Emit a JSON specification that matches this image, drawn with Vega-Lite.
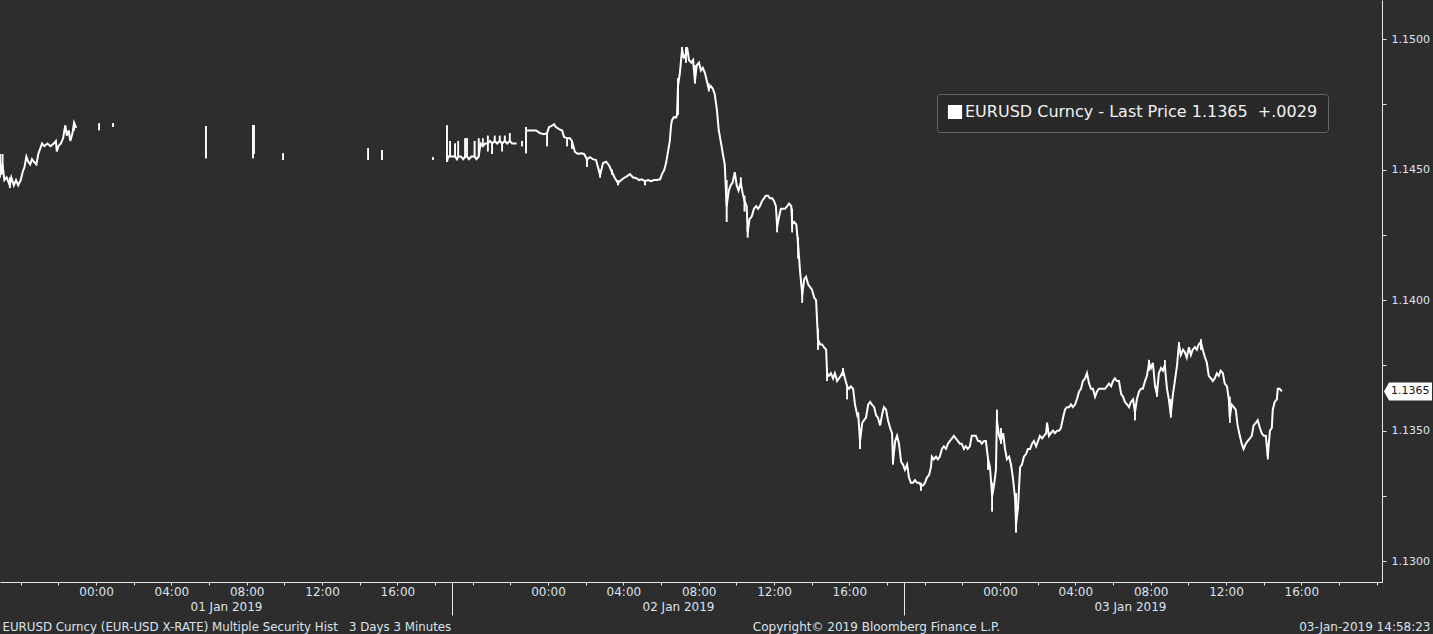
{
  "$schema": "https://vega.github.io/schema/vega-lite/v6.json",
  "width": 1382,
  "height": 582,
  "autosize": {"type": "none"},
  "padding": {"left": 0, "top": 0, "right": 51, "bottom": 52},
  "background": "#2d2d2d",
  "config": {"view": {"stroke": null}, "font": "DejaVu Sans"},
  "datasets": {
    "fx": [
      {"t":"2018-12-31T18:54:00Z","v":1.1454,"lo":1.1447,"hi":1.1456,"seg":"a"},
      {"t":"2018-12-31T18:58:00Z","v":1.1448,"seg":"a"},
      {"t":"2018-12-31T19:02:00Z","v":1.1452,"lo":1.1451,"hi":1.1456,"seg":"a"},
      {"t":"2018-12-31T19:08:00Z","v":1.1446,"seg":"a"},
      {"t":"2018-12-31T19:15:00Z","v":1.1447,"seg":"a"},
      {"t":"2018-12-31T19:25:00Z","v":1.1444,"lo":1.1443,"hi":1.1447,"seg":"a"},
      {"t":"2018-12-31T19:30:00Z","v":1.1447,"seg":"a"},
      {"t":"2018-12-31T19:38:00Z","v":1.1444,"seg":"a"},
      {"t":"2018-12-31T19:45:00Z","v":1.1446,"seg":"a"},
      {"t":"2018-12-31T19:52:00Z","v":1.1444,"seg":"a"},
      {"t":"2018-12-31T20:00:00Z","v":1.1446,"seg":"a"},
      {"t":"2018-12-31T20:06:00Z","v":1.1449,"seg":"a"},
      {"t":"2018-12-31T20:12:00Z","v":1.1451,"seg":"a"},
      {"t":"2018-12-31T20:18:00Z","v":1.1455,"seg":"a"},
      {"t":"2018-12-31T20:24:00Z","v":1.1453,"seg":"a"},
      {"t":"2018-12-31T20:30:00Z","v":1.1452,"seg":"a"},
      {"t":"2018-12-31T20:36:00Z","v":1.1454,"seg":"a"},
      {"t":"2018-12-31T20:42:00Z","v":1.1453,"seg":"a"},
      {"t":"2018-12-31T20:50:00Z","v":1.1452,"seg":"a"},
      {"t":"2018-12-31T20:56:00Z","v":1.1456,"seg":"a"},
      {"t":"2018-12-31T21:02:00Z","v":1.1458,"seg":"a"},
      {"t":"2018-12-31T21:08:00Z","v":1.1460,"seg":"a"},
      {"t":"2018-12-31T21:15:00Z","v":1.1459,"seg":"a"},
      {"t":"2018-12-31T21:25:00Z","v":1.1460,"seg":"a"},
      {"t":"2018-12-31T21:35:00Z","v":1.1459,"seg":"a"},
      {"t":"2018-12-31T21:45:00Z","v":1.1460,"seg":"a"},
      {"t":"2018-12-31T21:52:00Z","v":1.1461,"seg":"a"},
      {"t":"2018-12-31T21:55:00Z","v":1.1457,"seg":"a"},
      {"t":"2018-12-31T22:00:00Z","v":1.1459,"seg":"a"},
      {"t":"2018-12-31T22:08:00Z","v":1.1460,"seg":"a"},
      {"t":"2018-12-31T22:15:00Z","v":1.1462,"seg":"a"},
      {"t":"2018-12-31T22:22:00Z","v":1.1467,"seg":"a"},
      {"t":"2018-12-31T22:27:00Z","v":1.1463,"seg":"a"},
      {"t":"2018-12-31T22:33:00Z","v":1.1465,"seg":"a"},
      {"t":"2018-12-31T22:38:00Z","v":1.1461,"seg":"a"},
      {"t":"2018-12-31T22:45:00Z","v":1.1464,"seg":"a"},
      {"t":"2018-12-31T22:50:00Z","v":1.1468,"lo":1.1465,"hi":1.1468,"seg":"a"},
      {"t":"2018-12-31T22:57:00Z","v":1.1466,"seg":"a"},
      {"t":"2019-01-01T00:10:00Z","lo":1.14651,"hi":1.14678},
      {"t":"2019-01-01T00:54:00Z","lo":1.14663,"hi":1.14678},
      {"t":"2019-01-01T05:50:00Z","lo":1.14544,"hi":1.14667},
      {"t":"2019-01-01T08:20:00Z","lo":1.14544,"hi":1.14671},
      {"t":"2019-01-01T08:23:00Z","lo":1.14560,"hi":1.14671},
      {"t":"2019-01-01T09:56:00Z","lo":1.14537,"hi":1.14563},
      {"t":"2019-01-01T14:27:00Z","lo":1.14537,"hi":1.14583},
      {"t":"2019-01-01T15:11:00Z","lo":1.14537,"hi":1.14575},
      {"t":"2019-01-01T17:53:00Z","lo":1.14537,"hi":1.14548},
      {"t":"2019-01-01T22:37:00Z","lo":1.1459,"hi":1.1461},
      {"t":"2019-01-01T18:38:00Z","v":1.1453,"lo":1.1453,"hi":1.1467,"seg":"b"},
      {"t":"2019-01-01T18:42:00Z","v":1.1455,"seg":"b"},
      {"t":"2019-01-01T18:48:00Z","v":1.1455,"lo":1.1455,"hi":1.1461,"seg":"b"},
      {"t":"2019-01-01T18:55:00Z","v":1.1455,"seg":"b"},
      {"t":"2019-01-01T19:04:00Z","v":1.1455,"lo":1.1455,"hi":1.1460,"seg":"b"},
      {"t":"2019-01-01T19:10:00Z","v":1.1454,"seg":"b"},
      {"t":"2019-01-01T19:14:00Z","v":1.1455,"lo":1.1455,"hi":1.1461,"seg":"b"},
      {"t":"2019-01-01T19:22:00Z","v":1.1455,"seg":"b"},
      {"t":"2019-01-01T19:30:00Z","v":1.1454,"seg":"b"},
      {"t":"2019-01-01T19:36:00Z","v":1.1455,"lo":1.1455,"hi":1.1462,"seg":"b"},
      {"t":"2019-01-01T19:42:00Z","v":1.1455,"lo":1.1455,"hi":1.1462,"seg":"b"},
      {"t":"2019-01-01T19:48:00Z","v":1.1454,"seg":"b"},
      {"t":"2019-01-01T19:56:00Z","v":1.1455,"seg":"b"},
      {"t":"2019-01-01T20:06:00Z","v":1.1455,"lo":1.1455,"hi":1.1461,"seg":"b"},
      {"t":"2019-01-01T20:12:00Z","v":1.1454,"seg":"b"},
      {"t":"2019-01-01T20:19:00Z","v":1.1455,"lo":1.1455,"hi":1.1462,"seg":"b"},
      {"t":"2019-01-01T20:25:00Z","v":1.1460,"seg":"b"},
      {"t":"2019-01-01T20:32:00Z","v":1.1459,"lo":1.1459,"hi":1.1462,"seg":"b"},
      {"t":"2019-01-01T20:40:00Z","v":1.1460,"seg":"b"},
      {"t":"2019-01-01T20:48:00Z","v":1.1460,"lo":1.1457,"hi":1.1463,"seg":"b"},
      {"t":"2019-01-01T20:55:00Z","v":1.1461,"seg":"b"},
      {"t":"2019-01-01T21:02:00Z","v":1.1460,"lo":1.1456,"hi":1.1460,"seg":"b"},
      {"t":"2019-01-01T21:10:00Z","v":1.1461,"lo":1.1461,"hi":1.1463,"seg":"b"},
      {"t":"2019-01-01T21:18:00Z","v":1.1460,"seg":"b"},
      {"t":"2019-01-01T21:26:00Z","v":1.1461,"lo":1.1461,"hi":1.1463,"seg":"b"},
      {"t":"2019-01-01T21:34:00Z","v":1.1460,"lo":1.1457,"hi":1.1460,"seg":"b"},
      {"t":"2019-01-01T21:42:00Z","v":1.1461,"lo":1.1461,"hi":1.1463,"seg":"b"},
      {"t":"2019-01-01T21:50:00Z","v":1.1460,"seg":"b"},
      {"t":"2019-01-01T21:58:00Z","v":1.1461,"lo":1.1461,"hi":1.1464,"seg":"b"},
      {"t":"2019-01-01T22:06:00Z","v":1.1460,"seg":"b"},
      {"t":"2019-01-01T22:12:00Z","v":1.1460,"seg":"b"},
      {"t":"2019-01-01T22:20:00Z","v":1.1460,"seg":"b"},
      {"t":"2019-01-01T22:50:00Z","v":1.1465,"lo":1.14563,"hi":1.14663,"seg":"c"},
      {"t":"2019-01-01T22:56:00Z","v":1.1465,"seg":"c"},
      {"t":"2019-01-01T23:09:00Z","v":1.1465,"seg":"c"},
      {"t":"2019-01-01T23:22:00Z","v":1.1465,"seg":"c"},
      {"t":"2019-01-01T23:34:00Z","v":1.1464,"seg":"c"},
      {"t":"2019-01-01T23:47:00Z","v":1.14636,"seg":"c"},
      {"t":"2019-01-01T23:57:00Z","v":1.1464,"lo":1.1459,"hi":1.1464,"seg":"c"},
      {"t":"2019-01-02T00:03:00Z","v":1.14663,"seg":"c"},
      {"t":"2019-01-02T00:10:00Z","v":1.14667,"seg":"c"},
      {"t":"2019-01-02T00:16:00Z","v":1.14671,"seg":"c"},
      {"t":"2019-01-02T00:19:00Z","v":1.14674,"seg":"c"},
      {"t":"2019-01-02T00:25:00Z","v":1.14663,"seg":"c"},
      {"t":"2019-01-02T00:35:00Z","v":1.14655,"seg":"c"},
      {"t":"2019-01-02T00:45:00Z","v":1.1465,"seg":"c"},
      {"t":"2019-01-02T00:51:00Z","v":1.14625,"seg":"c"},
      {"t":"2019-01-02T01:01:00Z","v":1.1462,"lo":1.1459,"hi":1.1462,"seg":"c"},
      {"t":"2019-01-02T01:10:00Z","v":1.1462,"seg":"c"},
      {"t":"2019-01-02T01:16:00Z","v":1.1461,"lo":1.1458,"hi":1.1461,"seg":"c"},
      {"t":"2019-01-02T01:26:00Z","v":1.14567,"seg":"c"},
      {"t":"2019-01-02T01:36:00Z","v":1.1456,"seg":"c"},
      {"t":"2019-01-02T01:45:00Z","v":1.14563,"seg":"c"},
      {"t":"2019-01-02T01:55:00Z","v":1.1456,"seg":"c"},
      {"t":"2019-01-02T02:04:00Z","v":1.1454,"lo":1.1451,"hi":1.1454,"seg":"c"},
      {"t":"2019-01-02T02:14:00Z","v":1.14548,"seg":"c"},
      {"t":"2019-01-02T02:23:00Z","v":1.1454,"seg":"c"},
      {"t":"2019-01-02T02:33:00Z","v":1.14537,"seg":"c"},
      {"t":"2019-01-02T02:46:00Z","v":1.14479,"lo":1.1447,"hi":1.1450,"seg":"c"},
      {"t":"2019-01-02T02:55:00Z","v":1.14525,"seg":"c"},
      {"t":"2019-01-02T03:05:00Z","v":1.1453,"seg":"c"},
      {"t":"2019-01-02T03:14:00Z","v":1.14517,"seg":"c"},
      {"t":"2019-01-02T03:24:00Z","v":1.1449,"lo":1.1448,"hi":1.1450,"seg":"c"},
      {"t":"2019-01-02T03:33:00Z","v":1.14468,"seg":"c"},
      {"t":"2019-01-02T03:43:00Z","v":1.14448,"lo":1.1444,"hi":1.1446,"seg":"c"},
      {"t":"2019-01-02T03:53:00Z","v":1.1446,"seg":"c"},
      {"t":"2019-01-02T04:02:00Z","v":1.14468,"seg":"c"},
      {"t":"2019-01-02T04:12:00Z","v":1.14475,"seg":"c"},
      {"t":"2019-01-02T04:21:00Z","v":1.14483,"seg":"c"},
      {"t":"2019-01-02T04:31:00Z","v":1.1447,"seg":"c"},
      {"t":"2019-01-02T04:40:00Z","v":1.14468,"seg":"c"},
      {"t":"2019-01-02T04:50:00Z","v":1.1446,"seg":"c"},
      {"t":"2019-01-02T04:59:00Z","v":1.14463,"seg":"c"},
      {"t":"2019-01-02T05:09:00Z","v":1.14456,"lo":1.1444,"hi":1.1446,"seg":"c"},
      {"t":"2019-01-02T05:19:00Z","v":1.1446,"seg":"c"},
      {"t":"2019-01-02T05:28:00Z","v":1.14456,"seg":"c"},
      {"t":"2019-01-02T05:38:00Z","v":1.1446,"seg":"c"},
      {"t":"2019-01-02T05:47:00Z","v":1.1446,"seg":"c"},
      {"t":"2019-01-02T05:57:00Z","v":1.14463,"seg":"c"},
      {"t":"2019-01-02T06:03:00Z","v":1.14483,"seg":"c"},
      {"t":"2019-01-02T06:10:00Z","v":1.14498,"seg":"c"},
      {"t":"2019-01-02T06:16:00Z","v":1.14525,"seg":"c"},
      {"t":"2019-01-02T06:22:00Z","v":1.14567,"seg":"c"},
      {"t":"2019-01-02T06:28:00Z","v":1.1461,"seg":"c"},
      {"t":"2019-01-02T06:32:00Z","v":1.1467,"seg":"c"},
      {"t":"2019-01-02T06:35:00Z","v":1.1469,"seg":"c"},
      {"t":"2019-01-02T06:41:00Z","v":1.14701,"seg":"c"},
      {"t":"2019-01-02T06:48:00Z","v":1.147,"seg":"c"},
      {"t":"2019-01-02T06:51:00Z","v":1.1471,"seg":"c"},
      {"t":"2019-01-02T06:54:00Z","v":1.1482,"lo":1.1471,"hi":1.1485,"seg":"c"},
      {"t":"2019-01-02T07:00:00Z","v":1.1487,"seg":"c"},
      {"t":"2019-01-02T07:07:00Z","v":1.1496,"lo":1.1493,"hi":1.1497,"seg":"c"},
      {"t":"2019-01-02T07:13:00Z","v":1.1493,"seg":"c"},
      {"t":"2019-01-02T07:19:00Z","v":1.1494,"lo":1.1491,"hi":1.1497,"seg":"c"},
      {"t":"2019-01-02T07:23:00Z","v":1.14969,"seg":"c"},
      {"t":"2019-01-02T07:29:00Z","v":1.1492,"seg":"c"},
      {"t":"2019-01-02T07:36:00Z","v":1.1491,"seg":"c"},
      {"t":"2019-01-02T07:42:00Z","v":1.1492,"seg":"c"},
      {"t":"2019-01-02T07:48:00Z","v":1.1484,"lo":1.1483,"hi":1.1490,"seg":"c"},
      {"t":"2019-01-02T07:54:00Z","v":1.1490,"seg":"c"},
      {"t":"2019-01-02T08:01:00Z","v":1.1491,"seg":"c"},
      {"t":"2019-01-02T08:07:00Z","v":1.1488,"seg":"c"},
      {"t":"2019-01-02T08:13:00Z","v":1.1489,"seg":"c"},
      {"t":"2019-01-02T08:20:00Z","v":1.1487,"seg":"c"},
      {"t":"2019-01-02T08:26:00Z","v":1.1484,"seg":"c"},
      {"t":"2019-01-02T08:32:00Z","v":1.1481,"lo":1.1480,"hi":1.1483,"seg":"c"},
      {"t":"2019-01-02T08:39:00Z","v":1.1482,"seg":"c"},
      {"t":"2019-01-02T08:45:00Z","v":1.1481,"seg":"c"},
      {"t":"2019-01-02T08:51:00Z","v":1.1479,"seg":"c"},
      {"t":"2019-01-02T08:58:00Z","v":1.1473,"seg":"c"},
      {"t":"2019-01-02T09:04:00Z","v":1.1465,"seg":"c"},
      {"t":"2019-01-02T09:10:00Z","v":1.1461,"seg":"c"},
      {"t":"2019-01-02T09:17:00Z","v":1.1456,"seg":"c"},
      {"t":"2019-01-02T09:23:00Z","v":1.1452,"seg":"c"},
      {"t":"2019-01-02T09:29:00Z","v":1.1436,"lo":1.1430,"hi":1.1446,"seg":"c"},
      {"t":"2019-01-02T09:36:00Z","v":1.1442,"seg":"c"},
      {"t":"2019-01-02T09:42:00Z","v":1.1444,"seg":"c"},
      {"t":"2019-01-02T09:48:00Z","v":1.1445,"seg":"c"},
      {"t":"2019-01-02T09:55:00Z","v":1.1449,"seg":"c"},
      {"t":"2019-01-02T10:01:00Z","v":1.1444,"seg":"c"},
      {"t":"2019-01-02T10:07:00Z","v":1.1442,"seg":"c"},
      {"t":"2019-01-02T10:14:00Z","v":1.1445,"lo":1.1443,"hi":1.1447,"seg":"c"},
      {"t":"2019-01-02T10:20:00Z","v":1.1441,"seg":"c"},
      {"t":"2019-01-02T10:26:00Z","v":1.1438,"lo":1.1434,"hi":1.1440,"seg":"c"},
      {"t":"2019-01-02T10:33:00Z","v":1.1436,"seg":"c"},
      {"t":"2019-01-02T10:36:00Z","v":1.1426,"lo":1.1424,"hi":1.1428,"seg":"c"},
      {"t":"2019-01-02T10:42:00Z","v":1.1431,"seg":"c"},
      {"t":"2019-01-02T10:49:00Z","v":1.1432,"seg":"c"},
      {"t":"2019-01-02T10:56:00Z","v":1.1435,"seg":"c"},
      {"t":"2019-01-02T11:03:00Z","v":1.1436,"seg":"c"},
      {"t":"2019-01-02T11:09:00Z","v":1.1435,"seg":"c"},
      {"t":"2019-01-02T11:15:00Z","v":1.1436,"seg":"c"},
      {"t":"2019-01-02T11:22:00Z","v":1.1438,"seg":"c"},
      {"t":"2019-01-02T11:28:00Z","v":1.1439,"seg":"c"},
      {"t":"2019-01-02T11:34:00Z","v":1.1440,"seg":"c"},
      {"t":"2019-01-02T11:41:00Z","v":1.1440,"seg":"c"},
      {"t":"2019-01-02T11:47:00Z","v":1.1439,"seg":"c"},
      {"t":"2019-01-02T11:54:00Z","v":1.1439,"seg":"c"},
      {"t":"2019-01-02T12:00:00Z","v":1.1438,"seg":"c"},
      {"t":"2019-01-02T12:06:00Z","v":1.1436,"seg":"c"},
      {"t":"2019-01-02T12:10:00Z","v":1.1428,"lo":1.1426,"hi":1.1431,"seg":"c"},
      {"t":"2019-01-02T12:16:00Z","v":1.1432,"seg":"c"},
      {"t":"2019-01-02T12:22:00Z","v":1.1435,"seg":"c"},
      {"t":"2019-01-02T12:29:00Z","v":1.1435,"seg":"c"},
      {"t":"2019-01-02T12:35:00Z","v":1.1435,"seg":"c"},
      {"t":"2019-01-02T12:42:00Z","v":1.1436,"seg":"c"},
      {"t":"2019-01-02T12:48:00Z","v":1.1437,"seg":"c"},
      {"t":"2019-01-02T12:55:00Z","v":1.1436,"seg":"c"},
      {"t":"2019-01-02T12:58:00Z","v":1.1429,"lo":1.1426,"hi":1.1435,"seg":"c"},
      {"t":"2019-01-02T13:04:00Z","v":1.1430,"seg":"c"},
      {"t":"2019-01-02T13:11:00Z","v":1.1429,"seg":"c"},
      {"t":"2019-01-02T13:17:00Z","v":1.1421,"lo":1.1416,"hi":1.1424,"seg":"c"},
      {"t":"2019-01-02T13:23:00Z","v":1.1411,"seg":"c"},
      {"t":"2019-01-02T13:30:00Z","v":1.1402,"lo":1.1399,"hi":1.1405,"seg":"c"},
      {"t":"2019-01-02T13:36:00Z","v":1.1408,"seg":"c"},
      {"t":"2019-01-02T13:42:00Z","v":1.1409,"seg":"c"},
      {"t":"2019-01-02T13:49:00Z","v":1.1406,"seg":"c"},
      {"t":"2019-01-02T13:55:00Z","v":1.1405,"seg":"c"},
      {"t":"2019-01-02T14:01:00Z","v":1.1404,"seg":"c"},
      {"t":"2019-01-02T14:08:00Z","v":1.1401,"seg":"c"},
      {"t":"2019-01-02T14:14:00Z","v":1.1400,"seg":"c"},
      {"t":"2019-01-02T14:20:00Z","v":1.1385,"lo":1.1381,"hi":1.1389,"seg":"c"},
      {"t":"2019-01-02T14:27:00Z","v":1.1383,"seg":"c"},
      {"t":"2019-01-02T14:33:00Z","v":1.1383,"seg":"c"},
      {"t":"2019-01-02T14:39:00Z","v":1.1382,"seg":"c"},
      {"t":"2019-01-02T14:46:00Z","v":1.1381,"seg":"c"},
      {"t":"2019-01-02T14:49:00Z","v":1.1372,"lo":1.1369,"hi":1.1374,"seg":"c"},
      {"t":"2019-01-02T14:55:00Z","v":1.1371,"seg":"c"},
      {"t":"2019-01-02T15:01:00Z","v":1.1372,"seg":"c"},
      {"t":"2019-01-02T15:08:00Z","v":1.1370,"seg":"c"},
      {"t":"2019-01-02T15:14:00Z","v":1.1372,"seg":"c"},
      {"t":"2019-01-02T15:21:00Z","v":1.1369,"seg":"c"},
      {"t":"2019-01-02T15:27:00Z","v":1.1370,"seg":"c"},
      {"t":"2019-01-02T15:33:00Z","v":1.1371,"seg":"c"},
      {"t":"2019-01-02T15:40:00Z","v":1.1373,"lo":1.1371,"hi":1.1374,"seg":"c"},
      {"t":"2019-01-02T15:46:00Z","v":1.1370,"seg":"c"},
      {"t":"2019-01-02T15:53:00Z","v":1.1367,"lo":1.1362,"hi":1.1367,"seg":"c"},
      {"t":"2019-01-02T15:59:00Z","v":1.1366,"seg":"c"},
      {"t":"2019-01-02T16:05:00Z","v":1.1367,"seg":"c"},
      {"t":"2019-01-02T16:12:00Z","v":1.1366,"seg":"c"},
      {"t":"2019-01-02T16:18:00Z","v":1.1360,"seg":"c"},
      {"t":"2019-01-02T16:25:00Z","v":1.1356,"seg":"c"},
      {"t":"2019-01-02T16:28:00Z","v":1.1357,"seg":"c"},
      {"t":"2019-01-02T16:34:00Z","v":1.1346,"lo":1.1343,"hi":1.1351,"seg":"c"},
      {"t":"2019-01-02T16:41:00Z","v":1.1353,"seg":"c"},
      {"t":"2019-01-02T16:47:00Z","v":1.1354,"seg":"c"},
      {"t":"2019-01-02T16:53:00Z","v":1.1355,"seg":"c"},
      {"t":"2019-01-02T17:00:00Z","v":1.1360,"seg":"c"},
      {"t":"2019-01-02T17:06:00Z","v":1.1361,"seg":"c"},
      {"t":"2019-01-02T17:12:00Z","v":1.1360,"seg":"c"},
      {"t":"2019-01-02T17:19:00Z","v":1.1359,"seg":"c"},
      {"t":"2019-01-02T17:25:00Z","v":1.1356,"seg":"c"},
      {"t":"2019-01-02T17:31:00Z","v":1.1355,"seg":"c"},
      {"t":"2019-01-02T17:38:00Z","v":1.1352,"seg":"c"},
      {"t":"2019-01-02T17:44:00Z","v":1.1356,"seg":"c"},
      {"t":"2019-01-02T17:50:00Z","v":1.1359,"seg":"c"},
      {"t":"2019-01-02T17:57:00Z","v":1.1358,"seg":"c"},
      {"t":"2019-01-02T18:03:00Z","v":1.1354,"seg":"c"},
      {"t":"2019-01-02T18:10:00Z","v":1.1351,"seg":"c"},
      {"t":"2019-01-02T18:16:00Z","v":1.1349,"seg":"c"},
      {"t":"2019-01-02T18:19:00Z","v":1.1338,"lo":1.1337,"hi":1.1339,"seg":"c"},
      {"t":"2019-01-02T18:26:00Z","v":1.1346,"seg":"c"},
      {"t":"2019-01-02T18:32:00Z","v":1.1348,"seg":"c"},
      {"t":"2019-01-02T18:38:00Z","v":1.1345,"seg":"c"},
      {"t":"2019-01-02T18:45:00Z","v":1.1338,"seg":"c"},
      {"t":"2019-01-02T18:51:00Z","v":1.1337,"seg":"c"},
      {"t":"2019-01-02T18:57:00Z","v":1.1335,"seg":"c"},
      {"t":"2019-01-02T19:04:00Z","v":1.1337,"seg":"c"},
      {"t":"2019-01-02T19:10:00Z","v":1.1332,"seg":"c"},
      {"t":"2019-01-02T19:16:00Z","v":1.1330,"seg":"c"},
      {"t":"2019-01-02T19:23:00Z","v":1.1330,"seg":"c"},
      {"t":"2019-01-02T19:29:00Z","v":1.1331,"seg":"c"},
      {"t":"2019-01-02T19:36:00Z","v":1.1330,"seg":"c"},
      {"t":"2019-01-02T19:42:00Z","v":1.1330,"seg":"c"},
      {"t":"2019-01-02T19:48:00Z","v":1.1329,"lo":1.1327,"hi":1.1330,"seg":"c"},
      {"t":"2019-01-02T19:55:00Z","v":1.1329,"seg":"c"},
      {"t":"2019-01-02T20:01:00Z","v":1.1330,"seg":"c"},
      {"t":"2019-01-02T20:07:00Z","v":1.1332,"seg":"c"},
      {"t":"2019-01-02T20:14:00Z","v":1.1333,"seg":"c"},
      {"t":"2019-01-02T20:20:00Z","v":1.1336,"seg":"c"},
      {"t":"2019-01-02T20:23:00Z","v":1.1340,"seg":"c"},
      {"t":"2019-01-02T20:29:00Z","v":1.1339,"seg":"c"},
      {"t":"2019-01-02T20:36:00Z","v":1.1340,"seg":"c"},
      {"t":"2019-01-02T20:42:00Z","v":1.1339,"seg":"c"},
      {"t":"2019-01-02T20:48:00Z","v":1.1340,"seg":"c"},
      {"t":"2019-01-02T20:55:00Z","v":1.1343,"seg":"c"},
      {"t":"2019-01-02T21:01:00Z","v":1.1344,"seg":"c"},
      {"t":"2019-01-02T21:08:00Z","v":1.1343,"seg":"c"},
      {"t":"2019-01-02T21:14:00Z","v":1.1345,"seg":"c"},
      {"t":"2019-01-02T21:20:00Z","v":1.1346,"seg":"c"},
      {"t":"2019-01-02T21:27:00Z","v":1.1347,"seg":"c"},
      {"t":"2019-01-02T21:33:00Z","v":1.1348,"seg":"c"},
      {"t":"2019-01-02T21:39:00Z","v":1.1347,"seg":"c"},
      {"t":"2019-01-02T21:46:00Z","v":1.1346,"seg":"c"},
      {"t":"2019-01-02T21:52:00Z","v":1.1345,"seg":"c"},
      {"t":"2019-01-02T21:58:00Z","v":1.1345,"seg":"c"},
      {"t":"2019-01-02T22:05:00Z","v":1.1343,"seg":"c"},
      {"t":"2019-01-02T22:11:00Z","v":1.1344,"seg":"c"},
      {"t":"2019-01-02T22:17:00Z","v":1.1343,"seg":"c"},
      {"t":"2019-01-02T22:24:00Z","v":1.1344,"seg":"c"},
      {"t":"2019-01-02T22:30:00Z","v":1.1348,"seg":"c"},
      {"t":"2019-01-02T22:37:00Z","v":1.1348,"seg":"c"},
      {"t":"2019-01-02T22:43:00Z","v":1.1348,"seg":"c"},
      {"t":"2019-01-02T22:50:00Z","v":1.1346,"seg":"c"},
      {"t":"2019-01-02T22:56:00Z","v":1.1346,"seg":"c"},
      {"t":"2019-01-02T23:02:00Z","v":1.1345,"seg":"c"},
      {"t":"2019-01-02T23:09:00Z","v":1.1346,"seg":"c"},
      {"t":"2019-01-02T23:15:00Z","v":1.1346,"seg":"c"},
      {"t":"2019-01-02T23:22:00Z","v":1.1339,"lo":1.1335,"hi":1.1340,"seg":"c"},
      {"t":"2019-01-02T23:28:00Z","v":1.1336,"seg":"c"},
      {"t":"2019-01-02T23:35:00Z","v":1.1325,"lo":1.1319,"hi":1.1330,"seg":"c"},
      {"t":"2019-01-02T23:41:00Z","v":1.1329,"seg":"c"},
      {"t":"2019-01-02T23:47:00Z","v":1.1335,"seg":"c"},
      {"t":"2019-01-02T23:50:00Z","v":1.1354,"lo":1.1350,"hi":1.1358,"seg":"c"},
      {"t":"2019-01-02T23:57:00Z","v":1.1348,"seg":"c"},
      {"t":"2019-01-03T00:03:00Z","v":1.1346,"lo":1.1345,"hi":1.1351,"seg":"c"},
      {"t":"2019-01-03T00:10:00Z","v":1.1349,"seg":"c"},
      {"t":"2019-01-03T00:16:00Z","v":1.1343,"seg":"c"},
      {"t":"2019-01-03T00:22:00Z","v":1.1339,"seg":"c"},
      {"t":"2019-01-03T00:29:00Z","v":1.1340,"seg":"c"},
      {"t":"2019-01-03T00:35:00Z","v":1.1337,"seg":"c"},
      {"t":"2019-01-03T00:41:00Z","v":1.1332,"seg":"c"},
      {"t":"2019-01-03T00:48:00Z","v":1.1324,"seg":"c"},
      {"t":"2019-01-03T00:51:00Z","v":1.1314,"lo":1.1311,"hi":1.1326,"seg":"c"},
      {"t":"2019-01-03T00:57:00Z","v":1.1320,"seg":"c"},
      {"t":"2019-01-03T01:04:00Z","v":1.1336,"seg":"c"},
      {"t":"2019-01-03T01:10:00Z","v":1.1337,"seg":"c"},
      {"t":"2019-01-03T01:16:00Z","v":1.1340,"seg":"c"},
      {"t":"2019-01-03T01:23:00Z","v":1.1341,"seg":"c"},
      {"t":"2019-01-03T01:29:00Z","v":1.1343,"seg":"c"},
      {"t":"2019-01-03T01:36:00Z","v":1.1343,"seg":"c"},
      {"t":"2019-01-03T01:42:00Z","v":1.1345,"seg":"c"},
      {"t":"2019-01-03T01:48:00Z","v":1.1346,"seg":"c"},
      {"t":"2019-01-03T01:55:00Z","v":1.1344,"seg":"c"},
      {"t":"2019-01-03T02:01:00Z","v":1.1346,"seg":"c"},
      {"t":"2019-01-03T02:07:00Z","v":1.1348,"seg":"c"},
      {"t":"2019-01-03T02:14:00Z","v":1.1347,"seg":"c"},
      {"t":"2019-01-03T02:20:00Z","v":1.1348,"seg":"c"},
      {"t":"2019-01-03T02:27:00Z","v":1.1349,"seg":"c"},
      {"t":"2019-01-03T02:30:00Z","v":1.1353,"lo":1.1350,"hi":1.1353,"seg":"c"},
      {"t":"2019-01-03T02:36:00Z","v":1.1348,"seg":"c"},
      {"t":"2019-01-03T02:42:00Z","v":1.1349,"seg":"c"},
      {"t":"2019-01-03T02:49:00Z","v":1.1350,"seg":"c"},
      {"t":"2019-01-03T02:55:00Z","v":1.1349,"seg":"c"},
      {"t":"2019-01-03T03:02:00Z","v":1.1350,"seg":"c"},
      {"t":"2019-01-03T03:08:00Z","v":1.1350,"seg":"c"},
      {"t":"2019-01-03T03:14:00Z","v":1.1351,"seg":"c"},
      {"t":"2019-01-03T03:21:00Z","v":1.1355,"seg":"c"},
      {"t":"2019-01-03T03:27:00Z","v":1.1358,"seg":"c"},
      {"t":"2019-01-03T03:33:00Z","v":1.1359,"seg":"c"},
      {"t":"2019-01-03T03:40:00Z","v":1.1359,"seg":"c"},
      {"t":"2019-01-03T03:46:00Z","v":1.1360,"seg":"c"},
      {"t":"2019-01-03T03:52:00Z","v":1.1359,"seg":"c"},
      {"t":"2019-01-03T03:59:00Z","v":1.1360,"seg":"c"},
      {"t":"2019-01-03T04:05:00Z","v":1.1362,"seg":"c"},
      {"t":"2019-01-03T04:12:00Z","v":1.1365,"seg":"c"},
      {"t":"2019-01-03T04:18:00Z","v":1.1366,"seg":"c"},
      {"t":"2019-01-03T04:24:00Z","v":1.1369,"seg":"c"},
      {"t":"2019-01-03T04:31:00Z","v":1.1370,"seg":"c"},
      {"t":"2019-01-03T04:37:00Z","v":1.1372,"seg":"c"},
      {"t":"2019-01-03T04:44:00Z","v":1.1368,"seg":"c"},
      {"t":"2019-01-03T04:50:00Z","v":1.1366,"seg":"c"},
      {"t":"2019-01-03T04:56:00Z","v":1.1366,"seg":"c"},
      {"t":"2019-01-03T05:03:00Z","v":1.1363,"seg":"c"},
      {"t":"2019-01-03T05:09:00Z","v":1.1365,"seg":"c"},
      {"t":"2019-01-03T05:15:00Z","v":1.1366,"seg":"c"},
      {"t":"2019-01-03T05:22:00Z","v":1.1366,"seg":"c"},
      {"t":"2019-01-03T05:28:00Z","v":1.1366,"seg":"c"},
      {"t":"2019-01-03T05:35:00Z","v":1.1366,"seg":"c"},
      {"t":"2019-01-03T05:41:00Z","v":1.1367,"seg":"c"},
      {"t":"2019-01-03T05:47:00Z","v":1.1368,"seg":"c"},
      {"t":"2019-01-03T05:54:00Z","v":1.1367,"seg":"c"},
      {"t":"2019-01-03T06:00:00Z","v":1.1369,"seg":"c"},
      {"t":"2019-01-03T06:06:00Z","v":1.1370,"seg":"c"},
      {"t":"2019-01-03T06:13:00Z","v":1.1369,"seg":"c"},
      {"t":"2019-01-03T06:19:00Z","v":1.1369,"seg":"c"},
      {"t":"2019-01-03T06:26:00Z","v":1.1364,"seg":"c"},
      {"t":"2019-01-03T06:32:00Z","v":1.1363,"seg":"c"},
      {"t":"2019-01-03T06:38:00Z","v":1.1361,"seg":"c"},
      {"t":"2019-01-03T06:45:00Z","v":1.1360,"seg":"c"},
      {"t":"2019-01-03T06:51:00Z","v":1.1359,"seg":"c"},
      {"t":"2019-01-03T06:57:00Z","v":1.1361,"seg":"c"},
      {"t":"2019-01-03T07:04:00Z","v":1.1362,"seg":"c"},
      {"t":"2019-01-03T07:10:00Z","v":1.1357,"lo":1.1354,"hi":1.1359,"seg":"c"},
      {"t":"2019-01-03T07:16:00Z","v":1.1362,"seg":"c"},
      {"t":"2019-01-03T07:23:00Z","v":1.1365,"seg":"c"},
      {"t":"2019-01-03T07:29:00Z","v":1.1366,"seg":"c"},
      {"t":"2019-01-03T07:35:00Z","v":1.1366,"seg":"c"},
      {"t":"2019-01-03T07:42:00Z","v":1.1369,"seg":"c"},
      {"t":"2019-01-03T07:48:00Z","v":1.1371,"seg":"c"},
      {"t":"2019-01-03T07:55:00Z","v":1.1376,"lo":1.1373,"hi":1.1377,"seg":"c"},
      {"t":"2019-01-03T08:01:00Z","v":1.1374,"seg":"c"},
      {"t":"2019-01-03T08:07:00Z","v":1.1376,"seg":"c"},
      {"t":"2019-01-03T08:14:00Z","v":1.1367,"seg":"c"},
      {"t":"2019-01-03T08:20:00Z","v":1.1364,"lo":1.1363,"hi":1.1367,"seg":"c"},
      {"t":"2019-01-03T08:26:00Z","v":1.1372,"seg":"c"},
      {"t":"2019-01-03T08:33:00Z","v":1.1374,"seg":"c"},
      {"t":"2019-01-03T08:39:00Z","v":1.1373,"seg":"c"},
      {"t":"2019-01-03T08:45:00Z","v":1.1375,"lo":1.1374,"hi":1.1377,"seg":"c"},
      {"t":"2019-01-03T08:52:00Z","v":1.1366,"seg":"c"},
      {"t":"2019-01-03T08:58:00Z","v":1.1362,"seg":"c"},
      {"t":"2019-01-03T09:04:00Z","v":1.1356,"lo":1.1355,"hi":1.1362,"seg":"c"},
      {"t":"2019-01-03T09:11:00Z","v":1.1364,"seg":"c"},
      {"t":"2019-01-03T09:17:00Z","v":1.1369,"seg":"c"},
      {"t":"2019-01-03T09:24:00Z","v":1.1375,"seg":"c"},
      {"t":"2019-01-03T09:30:00Z","v":1.1383,"lo":1.1380,"hi":1.1384,"seg":"c"},
      {"t":"2019-01-03T09:36:00Z","v":1.1379,"seg":"c"},
      {"t":"2019-01-03T09:43:00Z","v":1.1381,"seg":"c"},
      {"t":"2019-01-03T09:49:00Z","v":1.1380,"seg":"c"},
      {"t":"2019-01-03T09:55:00Z","v":1.1378,"seg":"c"},
      {"t":"2019-01-03T10:02:00Z","v":1.1382,"seg":"c"},
      {"t":"2019-01-03T10:08:00Z","v":1.1379,"seg":"c"},
      {"t":"2019-01-03T10:14:00Z","v":1.1381,"seg":"c"},
      {"t":"2019-01-03T10:21:00Z","v":1.1382,"seg":"c"},
      {"t":"2019-01-03T10:27:00Z","v":1.1381,"seg":"c"},
      {"t":"2019-01-03T10:33:00Z","v":1.1383,"seg":"c"},
      {"t":"2019-01-03T10:40:00Z","v":1.1384,"lo":1.1381,"hi":1.1385,"seg":"c"},
      {"t":"2019-01-03T10:46:00Z","v":1.1381,"seg":"c"},
      {"t":"2019-01-03T10:53:00Z","v":1.1378,"seg":"c"},
      {"t":"2019-01-03T10:59:00Z","v":1.1376,"seg":"c"},
      {"t":"2019-01-03T11:05:00Z","v":1.1371,"seg":"c"},
      {"t":"2019-01-03T11:12:00Z","v":1.1370,"seg":"c"},
      {"t":"2019-01-03T11:18:00Z","v":1.1369,"seg":"c"},
      {"t":"2019-01-03T11:24:00Z","v":1.1370,"seg":"c"},
      {"t":"2019-01-03T11:31:00Z","v":1.1372,"seg":"c"},
      {"t":"2019-01-03T11:37:00Z","v":1.1371,"seg":"c"},
      {"t":"2019-01-03T11:43:00Z","v":1.1373,"seg":"c"},
      {"t":"2019-01-03T11:50:00Z","v":1.1372,"seg":"c"},
      {"t":"2019-01-03T11:56:00Z","v":1.1368,"seg":"c"},
      {"t":"2019-01-03T12:03:00Z","v":1.1367,"seg":"c"},
      {"t":"2019-01-03T12:09:00Z","v":1.1362,"seg":"c"},
      {"t":"2019-01-03T12:12:00Z","v":1.1355,"lo":1.1353,"hi":1.1363,"seg":"c"},
      {"t":"2019-01-03T12:18:00Z","v":1.1360,"seg":"c"},
      {"t":"2019-01-03T12:25:00Z","v":1.1359,"seg":"c"},
      {"t":"2019-01-03T12:31:00Z","v":1.1358,"seg":"c"},
      {"t":"2019-01-03T12:37:00Z","v":1.1352,"seg":"c"},
      {"t":"2019-01-03T12:44:00Z","v":1.1348,"seg":"c"},
      {"t":"2019-01-03T12:50:00Z","v":1.1345,"seg":"c"},
      {"t":"2019-01-03T12:56:00Z","v":1.1343,"seg":"c"},
      {"t":"2019-01-03T13:03:00Z","v":1.1345,"seg":"c"},
      {"t":"2019-01-03T13:09:00Z","v":1.1346,"seg":"c"},
      {"t":"2019-01-03T13:16:00Z","v":1.1347,"seg":"c"},
      {"t":"2019-01-03T13:22:00Z","v":1.1348,"seg":"c"},
      {"t":"2019-01-03T13:28:00Z","v":1.1352,"seg":"c"},
      {"t":"2019-01-03T13:35:00Z","v":1.1353,"seg":"c"},
      {"t":"2019-01-03T13:41:00Z","v":1.1354,"seg":"c"},
      {"t":"2019-01-03T13:48:00Z","v":1.1351,"seg":"c"},
      {"t":"2019-01-03T13:54:00Z","v":1.1349,"seg":"c"},
      {"t":"2019-01-03T14:00:00Z","v":1.1348,"seg":"c"},
      {"t":"2019-01-03T14:07:00Z","v":1.1348,"seg":"c"},
      {"t":"2019-01-03T14:13:00Z","v":1.1340,"lo":1.1339,"hi":1.1345,"seg":"c"},
      {"t":"2019-01-03T14:20:00Z","v":1.1350,"seg":"c"},
      {"t":"2019-01-03T14:26:00Z","v":1.1351,"seg":"c"},
      {"t":"2019-01-03T14:29:00Z","v":1.1358,"seg":"c"},
      {"t":"2019-01-03T14:35:00Z","v":1.1361,"seg":"c"},
      {"t":"2019-01-03T14:42:00Z","v":1.1362,"seg":"c"},
      {"t":"2019-01-03T14:45:00Z","v":1.1366,"seg":"c"},
      {"t":"2019-01-03T14:51:00Z","v":1.1366,"seg":"c"},
      {"t":"2019-01-03T14:58:00Z","v":1.1365,"seg":"c"}
    ],
    "last": [{"t": "2019-01-03T14:58:00Z", "v": 1.1365}]
  },
  "resolve": {"axis": {"x": "independent", "y": "independent"}},
  "layer": [
    {
      "data": {"name": "fx"},
      "transform": [{"filter": "isValid(datum.v)"}],
      "mark": {"type": "line", "strokeWidth": 2, "color": "#ffffff"},
      "encoding": {
        "x": {
          "field": "t", "type": "temporal",
          "scale": {"type": "utc", "domain": [1546282440000, 1546546620000]},
          "axis": {
            "orient": "bottom",
            "values": [1546286400000,1546293600000,1546300800000,1546308000000,1546315200000,1546322400000,1546329600000,1546336800000,1546344000000,1546351200000,1546358400000,1546365600000,1546372800000,1546380000000,1546387200000,1546394400000,1546401600000,1546408800000,1546416000000,1546423200000,1546430400000,1546437600000,1546444800000,1546452000000,1546459200000,1546466400000,1546473600000,1546480800000,1546488000000,1546495200000,1546502400000,1546509600000,1546516800000,1546524000000,1546531200000,1546538400000,1546545600000],
            "labelExpr": "utchours(datum.value) % 4 == 0 && utchours(datum.value) <= 16 ? utcFormat(datum.value, '%H:%M') : ''",
            "labelOverlap": false, "labelFlush": false,
            "grid": false,
            "tickSize": 3,
            "tickColor": "#e8e8e8",
            "domainColor": "#e8e8e8",
            "labelColor": "#dbe4ee",
            "labelFont": "DejaVu Sans",
            "labelFontSize": 12,
            "labelPadding": 1,
            "title": "EURUSD Curncy (EUR-USD X-RATE) Multiple Security Hist\u00a0\u00a0 3 Days 3 Minutes",
            "titleX": 2, "titleY": 44, "titleAlign": "left", "titleBaseline": "middle",
            "titleFont": "DejaVu Sans", "titleFontSize": 11.8, "titleFontWeight": "normal", "titleColor": "#dbe4ee"
          }
        },
        "y": {
          "field": "v", "type": "quantitative",
          "scale": {"domain": [1.1292, 1.1515], "nice": false, "zero": false},
          "axis": {
            "orient": "right",
            "values": [1.13, 1.1325, 1.135, 1.1375, 1.14, 1.1425, 1.145, 1.1475, 1.15],
            "labelExpr": "round(datum.value * 10000) % 50 == 0 ? format(datum.value, '.4f') : ''",
            "labelOverlap": false,
            "grid": false,
            "tickSize": 4,
            "tickColor": "#e8e8e8",
            "domainColor": "#e8e8e8",
            "labelColor": "#dbe4ee",
            "labelFont": "DejaVu Sans",
            "labelFontSize": 11,
            "labelPadding": 5,
            "title": "03-Jan-2019 14:58:23",
            "titleAngle": 0, "titleX": 48, "titleY": 626, "titleAlign": "right", "titleBaseline": "middle",
            "titleFont": "DejaVu Sans", "titleFontSize": 12, "titleFontWeight": "normal", "titleColor": "#dbe4ee"
          }
        },
        "detail": {"field": "seg", "type": "nominal"}
      }
    },
    {
      "data": {"name": "fx"},
      "transform": [{"filter": "isValid(datum.lo)"}],
      "mark": {"type": "rule", "color": "#ffffff", "strokeWidth": 1.6},
      "encoding": {
        "x": {
          "field": "t", "type": "temporal",
          "axis": {
            "orient": "bottom",
            "values": [1546368840000, 1546455240000],
            "labels": false,
            "grid": false,
            "domain": false,
            "tickSize": 33,
            "tickColor": "#e8e8e8",
            "title": "Copyright\u00a9 2019 Bloomberg Finance L.P.",
            "titleX": 876, "titleY": 44, "titleAlign": "center", "titleBaseline": "middle",
            "titleFont": "DejaVu Sans", "titleFontSize": 12, "titleFontWeight": "normal", "titleColor": "#dbe4ee"
          }
        },
        "y": {"field": "lo", "type": "quantitative", "axis": null},
        "y2": {"field": "hi"}
      }
    },
    {
      "data": {"name": "fx"},
      "transform": [{"filter": "isValid(datum.lo)"}],
      "mark": {"type": "rule", "color": "#ffffff", "strokeWidth": 1.6},
      "encoding": {
        "x": {
          "field": "t", "type": "temporal",
          "axis": {
            "orient": "bottom",
            "values": [1546325640000, 1546412040000, 1546498440000],
            "labelExpr": "utcFormat(datum.value, '%d %b %Y')",
            "labelOverlap": false, "labelFlush": false,
            "grid": false,
            "domain": false,
            "ticks": false,
            "labelColor": "#dbe4ee",
            "labelFont": "DejaVu Sans",
            "labelFontSize": 12,
            "labelPadding": 19,
            "title": null
          }
        },
        "y": {"field": "lo", "type": "quantitative", "axis": null},
        "y2": {"field": "hi"}
      }
    },
    {
      "data": {"name": "last"},
      "mark": {"type": "point", "shape": "M 2 0 L 7 -9 L 50 -9 L 50 9 L 7 9 Z", "filled": true, "size": 4, "opacity": 1, "clip": false},
      "encoding": {
        "x": {"value": "width"},
        "y": {"field": "v", "type": "quantitative", "axis": null},
        "color": {
          "datum": "EURUSD Curncy - Last Price 1.1365\u00a0 +.0029",
          "type": "nominal",
          "scale": {"range": ["#ffffff"]},
          "legend": {
            "title": null,
            "orient": "none", "legendX": 937, "legendY": 94,
            "fillColor": "#292929", "strokeColor": "#666666", "cornerRadius": 3,
            "padding": 10,
            "labelFont": "DejaVu Sans", "labelFontSize": 16, "labelColor": "#f2f2f2",
            "labelLimit": 600, "labelOffset": 2,
            "symbolType": "square", "symbolSize": 160,
            "symbolFillColor": "#ffffff", "symbolStrokeColor": "#ffffff", "symbolOpacity": 1
          }
        }
      }
    },
    {
      "data": {"name": "last"},
      "mark": {"type": "text", "align": "left", "baseline": "middle", "dx": 9, "font": "DejaVu Sans", "fontSize": 11, "color": "#141414", "clip": false},
      "encoding": {
        "x": {"value": "width"},
        "y": {"field": "v", "type": "quantitative", "axis": null},
        "text": {"field": "v", "type": "quantitative", "format": ".4f"}
      }
    }
  ]
}
